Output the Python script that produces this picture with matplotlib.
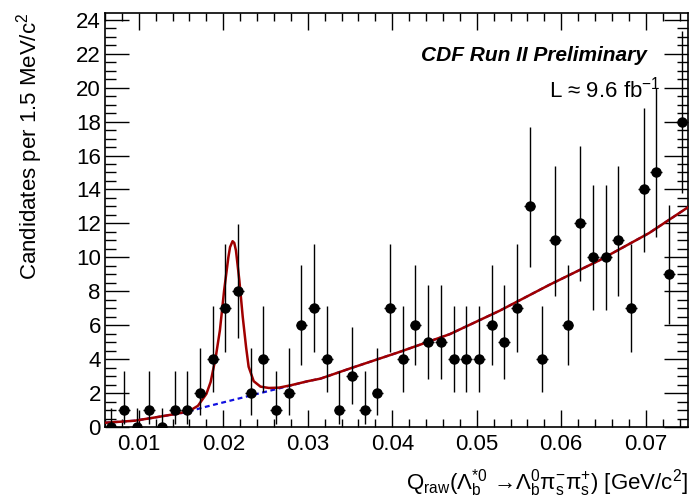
import numpy as np
import matplotlib
matplotlib.use('Agg')
import matplotlib.pyplot as plt
from matplotlib.ticker import MultipleLocator

plt.rcParams['font.family'] = ['Liberation Sans', 'DejaVu Sans']
plt.rcParams['mathtext.fontset'] = 'custom'
plt.rcParams['mathtext.rm'] = 'Liberation Sans'
plt.rcParams['mathtext.it'] = 'Liberation Sans:italic'
plt.rcParams['mathtext.bf'] = 'Liberation Sans:bold'

# histogram: 46 bins of 1.5 MeV starting at 0.006 GeV
bin_lo = 0.006
bin_w = 0.0015
counts = [0, 1, 0, 1, 0, 1, 1, 2, 4, 7, 8, 2, 4, 1, 2, 6, 7,
          4, 1, 3, 1, 2, 7, 4, 6, 5, 5, 4, 4, 4, 6, 5, 7, 13, 4,
          11, 6, 12, 10, 10, 11, 7, 14, 15, 9, 18]

# total fit (red)
fit_x = [0.006, 0.0095, 0.012, 0.0145, 0.0160, 0.0170, 0.0180, 0.0185, 0.0191,
         0.0196, 0.0201, 0.0206, 0.0208, 0.0211, 0.0213, 0.0215, 0.0219, 0.0223,
         0.0227, 0.0230, 0.0236, 0.0244, 0.0254, 0.0266, 0.0280, 0.0300, 0.0315,
         0.0350, 0.0409, 0.0468, 0.0527, 0.0586, 0.0645, 0.0704, 0.075]
fit_y = [0.25, 0.37, 0.57, 0.78, 0.95, 1.25, 1.95, 2.65, 4.1,
         5.7, 8.05, 10.0, 10.6, 10.95, 10.85, 10.4, 8.65, 6.5,
         4.7, 3.55, 2.7, 2.38, 2.3, 2.32, 2.46, 2.7, 2.85,
         3.45, 4.43, 5.47, 6.85, 8.38, 9.82, 11.43, 12.95]

# background only (blue dashed)
bkg_x = [0.006, 0.0095, 0.012, 0.0153, 0.018, 0.022, 0.026, 0.028, 0.030, 0.0315,
         0.035, 0.0409, 0.0468, 0.0527, 0.0586, 0.0645, 0.0704, 0.075]
bkg_y = [0.25, 0.37, 0.57, 0.84, 1.2, 1.7, 2.2, 2.45, 2.7, 2.85,
         3.45, 4.43, 5.47, 6.85, 8.38, 9.82, 11.43, 12.95]

counts = np.array(counts, dtype=float)
centers = bin_lo + bin_w * (np.arange(len(counts)) + 0.5)

# Garwood-style poisson intervals (Wilson-Hilferty approx of chi2 quantiles)
def chi2_q(k, z):
    k = np.maximum(k, 1e-9)
    return k * (1 - 2 / (9 * k) + z * np.sqrt(2 / (9 * k))) ** 3

up = 0.5 * chi2_q(2 * (counts + 1), 1.0) - counts
lo = np.where(counts > 0, counts - 0.5 * chi2_q(2 * counts, -1.0), 0.0)
up = np.where(counts > 0, up, 1.148)

fig = plt.figure(figsize=(6.89, 5.0), dpi=100)
ax = fig.add_axes([0.1524, 0.146, 0.8461, 0.828])

ax.plot(bkg_x, bkg_y, color='#1010e0', lw=1.6, ls=(0, (2.2, 1.6)), zorder=2)
ax.plot(fit_x, fit_y, color='#a00000', lw=1.8, zorder=3)
ax.errorbar(centers, counts, yerr=[lo, up], xerr=0.0007, fmt='o', color='black',
            ms=6.5, elinewidth=1.0, capsize=0, zorder=4, clip_on=True)

ax.set_xlim(0.006, 0.075)
ax.set_ylim(0, 24.4)
ax.xaxis.set_minor_locator(MultipleLocator(0.002))
ax.yaxis.set_major_locator(MultipleLocator(2))
ax.yaxis.set_minor_locator(MultipleLocator(0.5))
ax.set_xticks([0.01, 0.02, 0.03, 0.04, 0.05, 0.06, 0.07])
ax.set_xticklabels(['0.01', '0.02', '0.03', '0.04', '0.05', '0.06', '0.07'])
ax.tick_params(which='both', direction='in', top=True, right=True, labelsize=16,
               width=1.0)
ax.tick_params(axis='x', which='major', length=12, pad=5)
ax.tick_params(axis='x', which='minor', length=6)
ax.tick_params(axis='y', which='major', length=17, pad=3)
ax.tick_params(axis='y', which='minor', length=8)
for s in ax.spines.values():
    s.set_linewidth(1.2)

ax.set_xlabel('Q$_{\\mathrm{raw}}$(Λ$_{\\mathrm{b}}^{*0}$ →Λ$_{\\mathrm{b}}^{0}$'
              'π$_{\\mathrm{s}}^{-}$π$_{\\mathrm{s}}^{+}$) [GeV/c$^{2}$]',
              fontsize=16, loc='right', labelpad=9)
ax.set_ylabel('Candidates per 1.5 MeV/c$^{2}$', fontsize=16, loc='top', labelpad=22)

ax.text(0.0701, 21.9, 'CDF Run II Preliminary', fontsize=15, fontweight='bold',
        fontstyle='italic', ha='right', va='center')
ax.text(0.0718, 19.9, 'L ≈ 9.6 fb$^{-1}$', fontsize=16, ha='right', va='center')

fig.savefig('out.png', dpi=100)
